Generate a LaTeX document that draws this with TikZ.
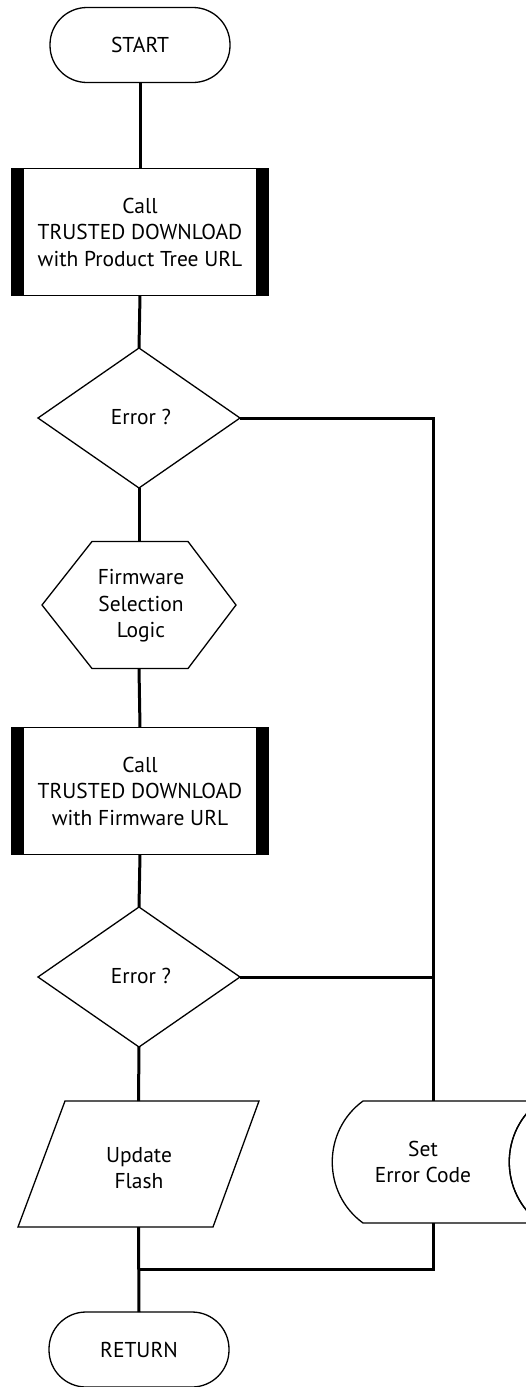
\documentclass[tikz,border=0pt]{standalone}
\usepackage{fontspec}
\setmainfont{PT Sans}
\begin{document}
\begin{tikzpicture}[x=1pt,y=-1pt,
  outline/.style={draw=black,line width=1.3pt,line join=miter},
  conn/.style={draw=black,line width=3pt},
  txt/.style={align=center,font=\fontsize{21.5}{26.5}\selectfont,text=black,inner sep=0pt},
  box/.style={inner sep=0pt,outer sep=0pt},
  term/.style={outline,box,txt,rounded corners=37pt,minimum width=180pt,minimum height=75pt},
  procbox/.style={outline,box,txt,minimum width=256pt,minimum height=127pt},
  bar/.style={fill=black}
]
\clip (0,0) rectangle (526,1387);
\fill[white] (0,0) rectangle (526,1387);

% nodes
\node[term] (start) at (140,45) {START};
\node[procbox] (p1) at (140,232) {Call\\TRUSTED DOWNLOAD\\with Product Tree URL};
\node[box,minimum width=202pt,minimum height=140pt] (d1) at (139,418) {};
\node[txt] (d1t) at (141,417) {Error ?};
\node[box,minimum width=194pt,minimum height=127pt] (hex) at (139,605) {};
\node[txt] (hext) at (141,606) {Firmware\\Selection\\Logic};
\node[procbox] (p2) at (140,791) {Call\\TRUSTED DOWNLOAD\\with Firmware URL};
\node[box,minimum width=202pt,minimum height=140pt] (d2) at (139,977) {};
\node[txt] (d2t) at (141,976) {Error ?};
\node[box,minimum width=241pt,minimum height=126pt] (upd) at (138.5,1164) {};
\node[txt] (updt) at (139,1168) {Update\\Flash};
\node[box,minimum width=202pt,minimum height=122pt] (err) at (433,1162) {};
\node[txt] (errt) at (423,1162) {Set\\Error Code};
\node[term] (ret) at (139,1349.5) {RETURN};
\coordinate (join) at (139,1269);

% shapes
\fill[bar] (p1.north west) rectangle ([xshift=12pt]p1.south west);
\fill[bar] ([xshift=-12pt]p1.north east) rectangle (p1.south east);
\draw[outline] (p1.north west) rectangle (p1.south east);
\fill[bar] (p2.north west) rectangle ([xshift=12pt]p2.south west);
\fill[bar] ([xshift=-12pt]p2.north east) rectangle (p2.south east);
\draw[outline] (p2.north west) rectangle (p2.south east);
\draw[outline] (d1.north) -- (d1.east) -- (d1.south) -- (d1.west) -- cycle;
\draw[outline] (d2.north) -- (d2.east) -- (d2.south) -- (d2.west) -- cycle;
\draw[outline] ([xshift=50pt]hex.north west) -- ([xshift=-48pt]hex.north east) -- (hex.east)
  -- ([xshift=-48pt]hex.south east) -- ([xshift=50pt]hex.south west) -- (hex.west) -- cycle;
\draw[outline] ([xshift=47pt]upd.north west) -- (upd.north east) -- ([xshift=-46pt]upd.south east)
  -- (upd.south west) -- cycle;
\draw[outline] (363,1101) -- (540,1101) .. controls (499,1131) and (499,1193) .. (540,1223)
  -- (363,1223) .. controls (322,1193) and (322,1131) .. (363,1101) -- cycle;
\draw[outline] (540,1101) .. controls (499,1131) and (499,1193) .. (540,1223);

% connectors
\draw[conn] (start.south) -- (p1.north);
\draw[conn] (p1.south) -- (d1.north);
\draw[conn] (d1.south) -- (hex.north);
\draw[conn] (hex.south) -- (p2.north);
\draw[conn] (p2.south) -- (d2.north);
\draw[conn] (d2.south) -- (upd.north);
\draw[conn] (upd.south) -- (ret.north);
\draw[conn] (d1.east) -| (err.north);
\draw[conn] (d2.east) -- (d2.east -| err.north);
\draw[conn] (err.south) |- (join);
\end{tikzpicture}
\end{document}
